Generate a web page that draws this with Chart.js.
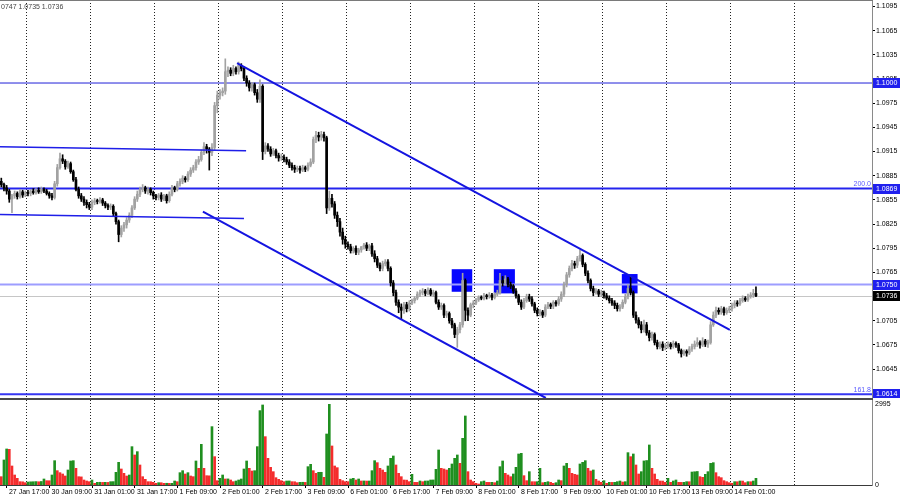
<!DOCTYPE html>
<html>
<head>
<meta charset="utf-8">
<title>EURUSD H1</title>
<script src="https://cdn.jsdelivr.net/npm/chart.js@4.4.0/dist/chart.umd.min.js"></script>
<style>
  body { margin: 0; background: #fff; }
  #wrap { position: relative; width: 900px; height: 500px; overflow: hidden; }
  #price { position: absolute; left: 0; top: 0; }
  #volume { position: absolute; left: 0; top: 398px; }
</style>
</head>
<body>
<div id="wrap">
  <canvas id="price" width="900" height="398"></canvas>
  <canvas id="volume" width="900" height="102"></canvas>
</div>
<script>
// prices are kept in points above 1.0000 (874 -> 1.0874), one entry per H1 bar
// first bar is 27 Jan 14:00, then full days from 30 Jan, last bar 14 Feb 09:00
const firstOpen = 878;
const closes = [
  874, 870, 866, 856, 860, 863, 859, 865, 861, 864,
  863, 866, 864, 867, 865, 868, 866, 863, 860, 858, 875, 895, 906, 903, 896, 900, 890, 880, 868, 860, 856, 852, 849, 846,
  852, 854, 853, 855, 851, 848, 846, 847, 838, 828, 812, 820, 824, 830, 836, 845, 856, 862, 868, 870, 866, 868, 864, 860,
  858, 861, 856, 860, 854, 862, 870, 868, 875, 878, 882, 880, 887, 892, 895, 902, 905, 914, 921, 918, 914, 920, 972, 985,
  988, 990, 1014, 1016, 1012, 1018, 1014, 1022, 1018, 1006, 1000, 994, 998, 988, 980, 996, 915, 922, 918, 912, 916, 910, 907, 908,
  905, 902, 898, 895, 893, 894, 892, 895, 893, 898, 902, 930, 935, 933, 936, 932, 845, 857, 850, 836, 828, 815, 806, 800,
  797, 792, 795, 790, 793, 797, 799, 795, 798, 788, 782, 774, 770, 776, 778, 770, 752, 740, 728, 722, 718, 725, 720, 727,
  730, 733, 738, 740, 742, 739, 743, 738, 740, 728, 722, 724, 712, 714, 705, 700, 688, 694, 700, 755, 718, 712, 725, 727,
  731, 734, 733, 736, 735, 737, 734, 738, 740, 755, 752, 757, 750, 748, 742, 736, 728, 722, 730, 735, 732, 726, 718, 714,
  716, 712, 722, 725, 723, 728, 726, 732, 738, 750, 762, 770, 776, 774, 782, 786, 775, 764, 755, 745, 740, 742, 738, 740,
  736, 733, 730, 727, 724, 720, 722, 728, 735, 745, 740, 712, 706, 700, 694, 700, 690, 684, 688, 678, 673, 676, 672, 674,
  676, 673, 677, 675, 668, 664, 667, 665, 670, 673, 676, 678, 675, 680, 676, 678, 700, 712, 718, 716, 720, 715, 718, 720,
  724, 727, 726, 730, 733, 731, 735, 737, 739, 736
];
const highs = [
  882, 876, 873, 868, 862, 866, 865, 868, 867, 866,
  867, 868, 869, 869, 870, 871, 870, 868, 865, 863, 878, 899, 913, 911, 905, 903, 902, 892, 883, 871, 863, 859, 855, 852,
  855, 857, 856, 858, 857, 853, 850, 850, 849, 840, 830, 823, 827, 833, 839, 848, 859, 866, 871, 874, 872, 871, 870, 866,
  862, 863, 864, 862, 862, 865, 873, 872, 878, 881, 885, 884, 890, 895, 898, 905, 909, 917, 926, 924, 920, 925, 976, 990,
  992, 994, 1030, 1020, 1019, 1022, 1020, 1026, 1024, 1020, 1009, 1003, 1001, 1000, 992, 1004, 998, 926, 925, 921, 919, 918, 913, 912,
  911, 908, 905, 901, 898, 897, 897, 898, 897, 901, 906, 933, 940, 939, 940, 939, 934, 866, 862, 853, 840, 832, 820, 810,
  803, 800, 797, 798, 795, 796, 801, 802, 800, 801, 792, 785, 777, 779, 781, 781, 772, 755, 743, 731, 726, 728, 728, 730,
  732, 735, 741, 743, 745, 744, 746, 745, 743, 742, 731, 727, 726, 717, 716, 708, 702, 697, 703, 764, 757, 721, 727, 730,
  733, 736, 736, 739, 738, 740, 739, 740, 743, 764, 760, 761, 759, 753, 750, 745, 738, 731, 733, 738, 738, 735, 728, 721,
  719, 718, 725, 728, 727, 730, 730, 735, 741, 753, 765, 773, 780, 779, 785, 793, 788, 777, 767, 757, 748, 745, 744, 743,
  742, 739, 736, 733, 730, 727, 725, 731, 738, 750, 760, 742, 716, 709, 704, 706, 703, 693, 691, 690, 681, 679, 679, 677,
  679, 678, 680, 679, 677, 670, 669, 669, 673, 676, 680, 684, 680, 684, 682, 681, 704, 716, 722, 721, 723, 722, 721, 723,
  727, 730, 730, 733, 736, 735, 738, 740, 744, 747
];
const lows = [
  871, 866, 862, 852, 839, 857, 856, 857, 858, 859,
  860, 860, 862, 862, 863, 863, 864, 861, 857, 855, 856, 872, 893, 900, 893, 894, 888, 878, 866, 857, 853, 848, 845, 843,
  843, 849, 850, 851, 848, 845, 843, 843, 835, 825, 803, 809, 816, 820, 827, 833, 843, 853, 859, 865, 863, 862, 861, 856,
  855, 855, 853, 854, 851, 852, 860, 865, 866, 872, 875, 877, 878, 884, 889, 892, 899, 903, 911, 913, 892, 910, 917, 963,
  980, 984, 986, 1008, 1009, 1009, 1011, 1011, 1015, 1003, 996, 990, 990, 985, 976, 976, 905, 912, 915, 909, 910, 907, 903, 904,
  902, 899, 895, 892, 889, 890, 888, 890, 890, 891, 896, 900, 926, 928, 929, 928, 838, 842, 846, 832, 822, 810, 800, 795,
  794, 789, 789, 787, 787, 790, 794, 792, 792, 785, 778, 771, 767, 767, 773, 767, 748, 736, 724, 715, 707, 714, 716, 717,
  725, 727, 731, 735, 737, 736, 737, 736, 735, 726, 719, 719, 709, 709, 702, 696, 684, 672, 690, 697, 705, 705, 710, 721,
  725, 729, 731, 731, 732, 733, 731, 732, 736, 738, 748, 749, 747, 745, 739, 733, 725, 719, 720, 728, 729, 723, 715, 711,
  711, 709, 710, 720, 720, 720, 723, 724, 729, 735, 747, 759, 767, 770, 771, 779, 772, 761, 752, 742, 736, 738, 735, 735,
  733, 731, 727, 724, 720, 717, 717, 720, 726, 732, 737, 709, 702, 696, 690, 691, 687, 680, 681, 675, 670, 670, 668, 669,
  671, 670, 671, 672, 665, 660, 662, 661, 663, 667, 670, 673, 671, 673, 673, 672, 676, 698, 709, 713, 713, 712, 713, 715,
  717, 721, 723, 724, 728, 729, 729, 733, 734, 735
];
const volumes = [
  308, 925, 1332, 1320, 703, 370, 247, 123, 118, 86,
  110, 118, 121, 126, 120, 130, 222, 160, 158, 370, 900, 530, 456, 407, 333, 555, 888, 900, 617, 308, 300, 185, 148, 123,
  185, 62, 99, 101, 97, 99, 96, 123, 125, 469, 838, 592, 432, 333, 370, 1418, 1110, 1233, 740, 308, 210, 123, 121, 99,
  62, 86, 84, 62, 64, 60, 62, 148, 123, 456, 530, 407, 456, 333, 308, 888, 617, 1504, 617, 345, 340, 2158, 1048, 160,
  247, 370, 222, 225, 185, 123, 148, 185, 222, 592, 888, 617, 518, 530, 1418, 2750, 2959, 1788, 986, 654, 493, 271, 210, 160,
  123, 148, 150, 123, 120, 86, 99, 101, 97, 678, 765, 530, 432, 469, 470, 284, 1886, 2984, 1443, 703, 641, 210, 160, 123,
  123, 222, 247, 185, 222, 148, 150, 146, 148, 530, 900, 826, 617, 555, 469, 703, 986, 1073, 740, 432, 308, 185, 180, 123,
  395, 99, 97, 148, 123, 148, 150, 185, 187, 580, 1295, 617, 592, 555, 617, 777, 986, 1110, 801, 1726, 2552, 493, 185, 123,
  62, 37, 123, 148, 99, 97, 99, 86, 148, 678, 888, 432, 370, 308, 407, 654, 1147, 1171, 345, 160, 493, 123, 121, 123,
  617, 86, 99, 123, 99, 62, 86, 185, 160, 703, 801, 617, 432, 395, 370, 777, 838, 900, 617, 518, 555, 210, 148, 99,
  160, 62, 99, 97, 99, 123, 148, 111, 123, 1196, 1048, 1147, 740, 407, 493, 890, 905, 1480, 617, 407, 210, 148, 146, 99,
  247, 99, 148, 185, 99, 97, 99, 123, 121, 480, 490, 500, 308, 284, 395, 493, 801, 826, 456, 308, 271, 160, 123, 86,
  62, 123, 121, 148, 146, 86, 123, 121, 148, 247
];

const barsBeforeFirstDay = 10;
const barsPerDay = 24;
const dayCount = 13;
const timeLabels = ['27 Jan 17:00', '30 Jan 09:00', '31 Jan 01:00', '31 Jan 17:00', '1 Feb 09:00', '2 Feb 01:00',
  '2 Feb 17:00', '3 Feb 09:00', '6 Feb 01:00', '6 Feb 17:00', '7 Feb 09:00', '8 Feb 01:00', '8 Feb 17:00',
  '9 Feb 09:00', '10 Feb 01:00', '10 Feb 17:00', '13 Feb 09:00', '14 Feb 01:00'];
const labelBars = [3, 19, 35, 51, 67, 83, 99, 115, 131, 147, 163, 179, 195, 211, 227, 243, 259, 275];

const priceTicks = [1.0645, 1.0675, 1.0705, 1.0735, 1.0765, 1.0795, 1.0825, 1.0855, 1.0885, 1.0915, 1.0945, 1.0975, 1.1005, 1.1035, 1.1065, 1.1095];
const volumeTicks = [0, 2995];
const levels = [1.1000, 1.0869, 1.0750, 1.0614];
const fibTexts = ['', '200.0', '', '161.8'];
const bidPrice = 1.0736;
const infoText = '0747 1.0735 1.0736';

// drawn objects: [bar, price] end points and rectangles [bar from, bar to, price low, price high]
const trendLines = [
  [[-0.5, 1.0921], [91.8, 1.0916]],
  [[-0.5, 1.0837], [91.0, 1.0832]],
  [[88.4, 1.10248], [273.2, 1.06936]],
  [[75.6, 1.08404], [204.2, 1.06092]]
];
const boxes = [
  [168.9, 176.6, 1.0741, 1.0769],
  [184.7, 192.6, 1.0739, 1.0769],
  [232.7, 238.6, 1.0739, 1.0763]
];

// view
const X_MIN = -0.4875, X_MAX = 326.5125;
const P_MIN = 1.06092, P_MAX = 1.1103;
const V_MAX = 3143;
const FONT = "'Liberation Sans', Arial, sans-serif";
const levelStyles = [
  {color: '#2020d8', width: 1},
  {color: '#2424ee', width: 2},
  {color: '#9d9dff', width: 2},
  {color: '#3535f2', width: 2}
];
const trendStyles = [
  {color: '#1e1ee8', width: 1.5},
  {color: '#1e1ee8', width: 1.5},
  {color: '#1414e0', width: 2},
  {color: '#1414e0', width: 2}
];

Chart.defaults.font.family = FONT;

const toPrice = v => 1 + v / 10000;

// build candles (open = previous close)
const bodies = [], wicks = [], candleColors = [];
closes.forEach((c, i) => {
  const o = i === 0 ? firstOpen : closes[i - 1];
  bodies.push({x: i, y: [toPrice(o), toPrice(c)]});
  wicks.push({x: i, y: [toPrice(Math.min(lows[i], o, c)), toPrice(Math.max(highs[i], o, c))]});
  candleColors.push(c > o ? '#a2a2a2' : '#000000');
});

// MT4 volumes: green when higher than the previous bar
const volumeData = volumes.map((v, i) => ({x: i, y: v}));
const volumeColors = volumes.map((v, i) => (i > 0 && v > volumes[i - 1]) ? '#1f8f1f' : '#f42c2c');

const daySeparators = [];
for (let d = 0; d < dayCount; d++) {
  daySeparators.push(barsBeforeFirstDay - 0.5 + d * barsPerDay);
}

function xGridAxis() {
  return {
    type: 'linear', min: X_MIN, max: X_MAX, offset: false,
    afterBuildTicks(s) { s.ticks = daySeparators.map(v => ({value: v})); },
    afterFit(s) { s.height = 0; s.paddingLeft = 0; s.paddingRight = 0; },
    ticks: {display: false},
    grid: {color: '#222', lineWidth: 1, drawTicks: false, offset: false},
    border: {display: false, dash: [1, 2]}
  };
}

// levels, rectangles, labels on the price window
const priceOverlay = {
  id: 'priceOverlay',
  beforeDatasetsDraw(chart) {
    const {ctx, chartArea: a, scales: {x, y}} = chart;
    ctx.save();
    ctx.fillStyle = '#0606ff';
    boxes.forEach(b => {
      const x1 = x.getPixelForValue(b[0]), x2 = x.getPixelForValue(b[1]);
      const y1 = y.getPixelForValue(b[3]), y2 = y.getPixelForValue(b[2]);
      ctx.fillRect(x1, y1, x2 - x1, y2 - y1);
    });
    // bid line
    let py = y.getPixelForValue(bidPrice);
    ctx.strokeStyle = '#c6c6c6';
    ctx.lineWidth = 1;
    ctx.beginPath(); ctx.moveTo(a.left, Math.round(py) + 0.5); ctx.lineTo(a.right, Math.round(py) + 0.5); ctx.stroke();
    levels.forEach((lv, i) => {
      py = y.getPixelForValue(lv);
      ctx.strokeStyle = levelStyles[i].color;
      ctx.lineWidth = levelStyles[i].width;
      ctx.beginPath(); ctx.moveTo(a.left, py); ctx.lineTo(a.right, py); ctx.stroke();
      if (fibTexts[i]) {
        ctx.fillStyle = '#5a5aff';
        ctx.font = '7px ' + FONT;
        ctx.textAlign = 'right';
        ctx.textBaseline = 'bottom';
        ctx.fillText(fibTexts[i], a.right - 1, py - 1);
      }
    });
    ctx.restore();
  },
  afterDraw(chart) {
    const {ctx, chartArea: a, scales: {y}} = chart;
    ctx.save();
    ctx.font = '7px ' + FONT;
    ctx.textAlign = 'left';
    ctx.textBaseline = 'middle';
    const tag = (price, bg) => {
      const py = Math.round(y.getPixelForValue(price));
      ctx.fillStyle = bg;
      ctx.fillRect(a.right + 1, py - 5, 900 - a.right - 1, 10);
      ctx.fillStyle = '#fff';
      ctx.fillText(price.toFixed(4), a.right + 4, py + 0.5);
    };
    levels.forEach(lv => tag(lv, '#2020ee'));
    tag(bidPrice, '#000');
    // top border
    ctx.fillStyle = '#7a7a7a';
    ctx.fillRect(0, 0, a.right + 1, 1);
    // last bar info
    ctx.fillStyle = '#444';
    ctx.textBaseline = 'middle';
    ctx.fillText(infoText, 1, 7);
    ctx.restore();
  }
};

new Chart(document.getElementById('price'), {
  type: 'bar',
  data: {
    datasets: [
      ...trendLines.map((t, i) => ({
        type: 'line',
        data: t.map(p => ({x: p[0], y: p[1]})),
        borderColor: trendStyles[i].color,
        borderWidth: trendStyles[i].width,
        pointRadius: 0,
        tension: 0
      })),
      {
        data: bodies,
        backgroundColor: candleColors,
        barThickness: 2,
        minBarLength: 1,
        grouped: false,
        borderWidth: 0
      },
      {
        data: wicks,
        backgroundColor: candleColors,
        barThickness: 1,
        grouped: false,
        borderWidth: 0
      }
    ]
  },
  options: {
    responsive: false,
    animation: false,
    devicePixelRatio: 1,
    events: [],
    layout: {padding: 0, autoPadding: false},
    plugins: {legend: {display: false}, tooltip: {enabled: false}},
    scales: {
      x: xGridAxis(),
      y: {
        position: 'right', min: P_MIN, max: P_MAX,
        afterBuildTicks(s) { s.ticks = priceTicks.map(v => ({value: v})); },
        afterFit(s) { s.width = 28; s.paddingTop = 0; s.paddingBottom = 0; },
        ticks: {
          autoSkip: false,
          padding: 1,
          color: '#000',
          font: {size: 7},
          callback: v => v.toFixed(4)
        },
        grid: {drawOnChartArea: false, drawTicks: true, tickLength: 3, color: '#000'},
        border: {display: true, color: '#8a8a8a', width: 1}
      }
    }
  },
  plugins: [priceOverlay]
});

// volume window
const volumeOverlay = {
  id: 'volumeOverlay',
  afterDraw(chart) {
    const {ctx, chartArea: a} = chart;
    ctx.save();
    ctx.fillStyle = '#4a4a4a';
    ctx.fillRect(0, 0, a.right + 1, 2);
    ctx.restore();
  }
};

new Chart(document.getElementById('volume'), {
  type: 'bar',
  data: {
    datasets: [{
      data: volumeData,
      backgroundColor: volumeColors,
      barThickness: 2,
      borderWidth: 0
    }]
  },
  options: {
    responsive: false,
    animation: false,
    devicePixelRatio: 1,
    events: [],
    layout: {padding: {top: 2, left: 0, right: 0, bottom: 0}, autoPadding: false},
    plugins: {legend: {display: false}, tooltip: {enabled: false}},
    scales: {
      x: xGridAxis(),
      x2: {
        type: 'linear', position: 'bottom', min: X_MIN, max: X_MAX, offset: false,
        afterBuildTicks(s) { s.ticks = labelBars.map(b => ({value: b - 0.9})); },
        afterFit(s) { s.height = 15; s.paddingLeft = 0; s.paddingRight = 0; },
        ticks: {
          autoSkip: false,
          maxRotation: 0,
          align: 'start',
          labelOffset: 2,
          padding: 0,
          color: '#000',
          font: {size: 7},
          callback: (v, i) => timeLabels[i]
        },
        grid: {drawOnChartArea: false, drawTicks: true, tickLength: 3, color: '#000', offset: false},
        border: {display: true, color: '#3a3a3a', width: 1}
      },
      y: {
        position: 'right', min: 0, max: V_MAX,
        afterBuildTicks(s) { s.ticks = volumeTicks.map(v => ({value: v})); },
        afterFit(s) { s.width = 28; s.paddingTop = 0; s.paddingBottom = 0; },
        ticks: {autoSkip: false, padding: 3, color: '#000', font: {size: 7}, callback: v => String(v)},
        grid: {display: false, drawTicks: false},
        border: {display: true, color: '#8a8a8a', width: 1}
      }
    }
  },
  plugins: [volumeOverlay]
});
</script>
</body>
</html>
